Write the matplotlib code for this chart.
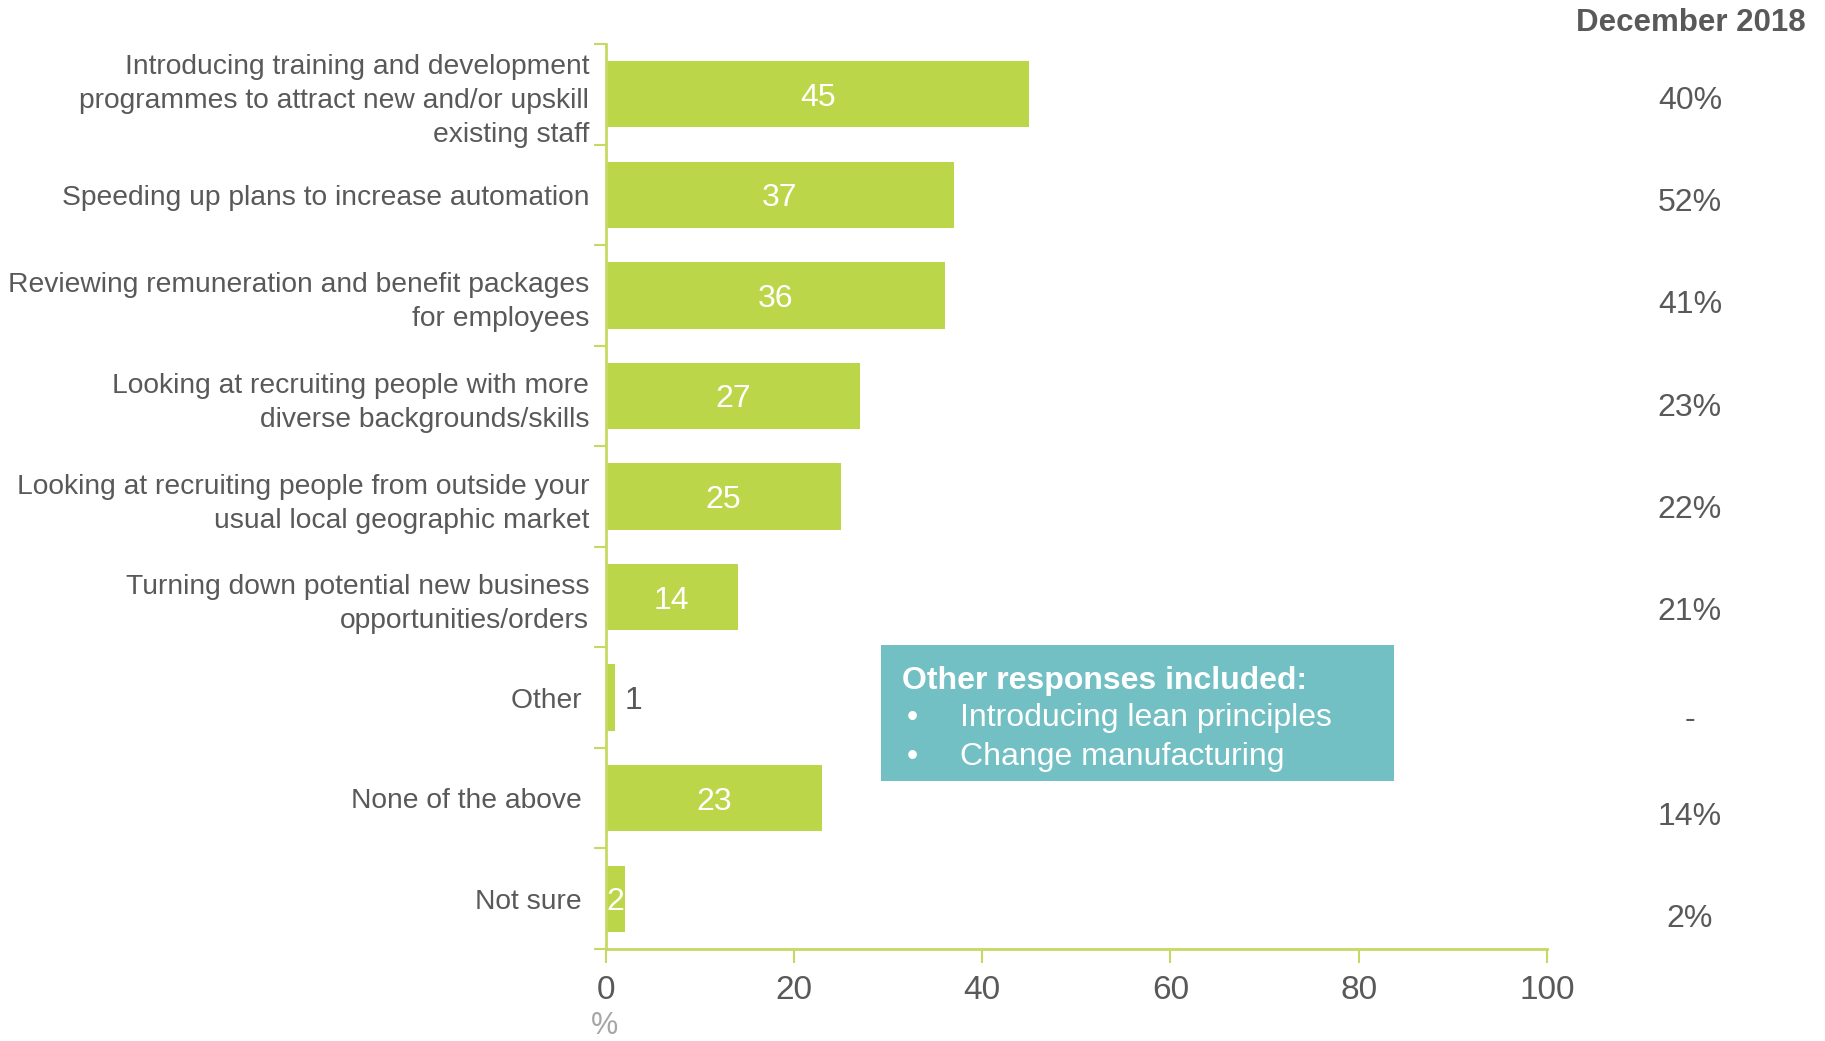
import numpy as np
import matplotlib
matplotlib.use('Agg')
import matplotlib.pyplot as plt
import matplotlib.transforms as mtransforms
from matplotlib.patches import Rectangle

plt.rcParams['font.family'] = ['Liberation Sans', 'DejaVu Sans']

# Data
categories = [
    'Introducing training and development\nprogrammes to attract new and/or upskill\nexisting staff',
    'Speeding up plans to increase automation',
    'Reviewing remuneration and benefit packages\nfor employees',
    'Looking at recruiting people with more\ndiverse backgrounds/skills',
    'Looking at recruiting people from outside your\nusual local geographic market',
    'Turning down potential new business\nopportunities/orders',
    'Other ',
    'None of the above ',
    'Not sure ',
]
values = [45, 37, 36, 27, 25, 14, 1, 23, 2]
dec_2018 = ['40%', '52%', '41%', '23%', '22%', '21%', '-', '14%', '2%']
x_ticks = [0, 20, 40, 60, 80, 100]
other_responses = ['Introducing lean principles', 'Change manufacturing']

# Colours
bar_green = '#BCD64A'
axis_green = '#C4DA62'
text_gray = '#595959'
box_teal = '#72BFC4'

fig = plt.figure(figsize=(18.25, 10.41), dpi=100)
ax = fig.add_axes([0.332, 0.0884, 0.5156, 0.8693])

y = np.arange(len(categories))
ax.barh(y, values, height=0.66, color=bar_green)
ax.set_ylim(len(categories) - 0.5, -0.5)
ax.set_xlim(0, 100)

# Y axis: labels on centres, tick marks on boundaries
ax.set_yticks(y)
ax.set_yticklabels(categories, fontsize=20.3, color=text_gray, linespacing=1.4)
ax.set_yticks(np.arange(-0.5, len(categories)), minor=True)
ax.tick_params(axis='y', which='major', length=0, pad=12)
ax.tick_params(axis='y', which='minor', length=9, width=1.5, color=axis_green)

# X axis
ax.set_xticks(x_ticks)
ax.set_xticklabels([str(t) for t in x_ticks], fontsize=24, color=text_gray)
ax.tick_params(axis='x', length=10, width=1.5, color=axis_green, pad=9)

for side in ['top', 'right']:
    ax.spines[side].set_visible(False)
for side in ['left', 'bottom']:
    ax.spines[side].set_color(axis_green)
    ax.spines[side].set_linewidth(2)

# Value labels
for i, v in enumerate(values):
    if v < 2:
        ax.text(v + 1.0, i, str(v), ha='left', va='center_baseline', fontsize=23, color=text_gray)
    else:
        ax.text(v / 2, i, str(v), ha='center', va='center_baseline', fontsize=23, color='white')

# December 2018 comparison column (spaced slightly wider than the bars)
trans = mtransforms.blended_transform_factory(ax.transAxes, ax.transData)
for i, s in enumerate(dec_2018):
    yy = i * 1.017 + 0.03 + (0.06 if s == '-' else 0)
    ax.text(1.152, yy, s, transform=trans, ha='center', va='center_baseline',
            fontsize=23, color=text_gray, clip_on=False)
fig.text(0.9896, 0.978, 'December 2018', ha='right', va='center',
         fontsize=22.5, fontweight='bold', color=text_gray)

# Other responses box
ax.add_patch(Rectangle((29.2, 5.48), 54.6, 1.35, facecolor=box_teal,
                       edgecolor='none', zorder=3))
ax.text(31.5, 5.8, 'Other responses included:', ha='left', va='center_baseline',
        fontsize=23, fontweight='bold', color='white', zorder=4)
for k, item in enumerate(other_responses):
    yy = 6.17 + k * 0.39
    ax.text(32.0, yy, '\u2022', ha='left', va='center_baseline', fontsize=23, color='white', zorder=4)
    ax.text(37.6, yy, item, ha='left', va='center_baseline', fontsize=23, color='white', zorder=4)

# Unit label under axis
fig.text(0.3315, 0.014, '%', ha='center', va='center', fontsize=22, color='#A6A6A6')

fig.savefig('out.png', dpi=100)
